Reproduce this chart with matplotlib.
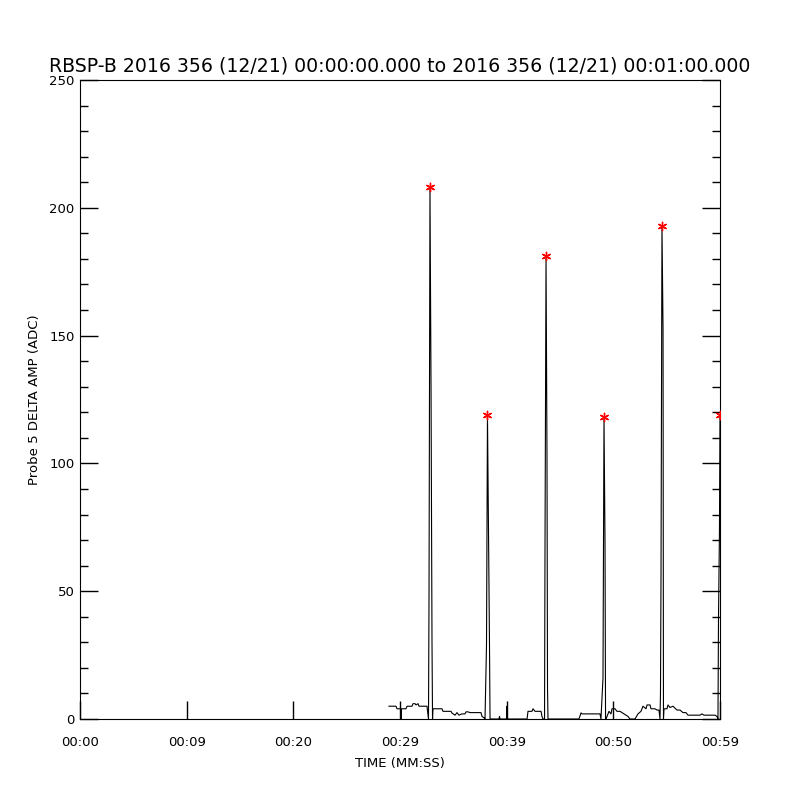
import matplotlib
matplotlib.use('Agg')
import matplotlib.pyplot as plt
import numpy as np

# probe 5 delta amplitude, seconds after 00:00:00
time_s = [28.97, 29.625, 29.72, 30.05, 30.09, 30.14, 30.56, 30.66, 31.125, 31.22,
          31.41, 31.5, 31.69, 31.78, 32.53, 32.67, 32.72, 32.81, 32.91, 33.0,
          33.05, 33.09, 33.94, 34.03, 34.78, 34.875, 35.16, 35.34, 35.53, 35.81,
          36.09, 36.19, 36.375, 36.56, 37.59, 37.69, 37.875, 37.97, 38.11, 38.20,
          38.30, 38.39, 38.44, 39.28, 39.33, 39.375, 39.98, 40.03, 40.08, 41.91,
          42.0, 42.375, 42.47, 42.66, 43.22, 43.31, 43.41, 43.55, 43.59, 43.69,
          43.78, 43.83, 43.875, 46.78, 46.97, 47.06, 48.75, 48.84, 49.03, 49.125,
          49.22, 49.27, 49.31, 49.41, 49.59, 49.78, 49.875, 50.16, 50.34, 50.625,
          51.0, 51.375, 51.56, 52.03, 52.31, 52.59, 52.78, 53.06, 53.16, 53.44,
          53.53, 53.91, 54.09, 54.28, 54.375, 54.42, 54.47, 54.56, 54.66, 54.70,
          54.75, 55.03, 55.125, 55.31, 55.59, 55.97, 56.25, 56.53, 56.81, 57.0,
          57.66, 58.125, 58.31, 58.5, 59.53, 59.72, 59.81, 59.86, 59.95, 60.0]
amp_adc = [5, 5, 4, 4, 0, 4, 4, 5, 5, 6,
           6, 5.5, 6, 5, 5, 0, 47, 208, 129, 30,
           0, 4, 4, 3, 3, 2.3, 1.5, 2.5, 1.5, 2,
           2, 2.8, 2.8, 2.5, 2.5, 1, 0.5, 0, 29, 119,
           72, 29, 0, 0, 1, 0, 0, 5, 0, 0,
           3, 3, 4, 3, 3, 1, 0, 0, 62, 181,
           103, 12, 0, 0, 2.4, 2, 2, 0, 16, 118,
           69, 0, 0, 1, 3, 2, 4, 4, 3, 3,
           2, 1, 0, 0, 2, 3, 5, 4, 5.5, 5.5,
           4, 4, 3.5, 3.5, 0, 10, 57, 193, 152, 0,
           4, 4, 5.5, 4.5, 5, 3.5, 3.5, 2.5, 2.5, 1.5,
           1.5, 1.5, 2, 1.5, 1.5, 1, 0, 40, 74, 119]

# detected peaks
peak_time = [32.81, 38.20, 43.69, 49.125, 54.56, 60.0]
peak_amp = [208, 119, 181, 118, 193, 119]

xtick_pos = [0, 10, 20, 30, 40, 50, 60]
xtick_lab = ['00:00', '00:09', '00:20', '00:29', '00:39', '00:50', '00:59']

title = 'RBSP-B 2016 356 (12/21) 00:00:00.000 to 2016 356 (12/21) 00:01:00.000'

fig = plt.figure(figsize=(8, 8), dpi=100)
ax = fig.add_axes([0.1, 0.10125, 0.8, 0.79875])

ax.plot(time_s, amp_adc, color='black', linewidth=0.8)
ax.scatter(peak_time, peak_amp, marker=(6, 2, 0), color='red', s=36, linewidths=1.0, zorder=3)

ax.set_xlim(0, 60)
ax.set_ylim(0, 250)
ax.set_xticks(xtick_pos)
ax.set_xticklabels(xtick_lab)
ax.set_yticks(np.arange(0, 251, 50))
ax.set_yticks(np.arange(0, 251, 10), minor=True)

ax.tick_params(axis='x', direction='in', length=13, width=1, pad=12, labelsize=9.5, top=False)
ax.tick_params(axis='y', which='major', direction='in', length=13, width=1, right=True, labelsize=9.5, pad=4)
ax.tick_params(axis='y', which='minor', direction='in', length=6, width=1, right=True)

ax.set_title(title, fontsize=13.6, pad=6)
ax.set_xlabel('TIME (MM:SS)', fontsize=9.5, labelpad=6)
ax.set_ylabel('Probe 5 DELTA AMP (ADC)', fontsize=9.5, labelpad=6)

fig.savefig('out.png', dpi=100)
